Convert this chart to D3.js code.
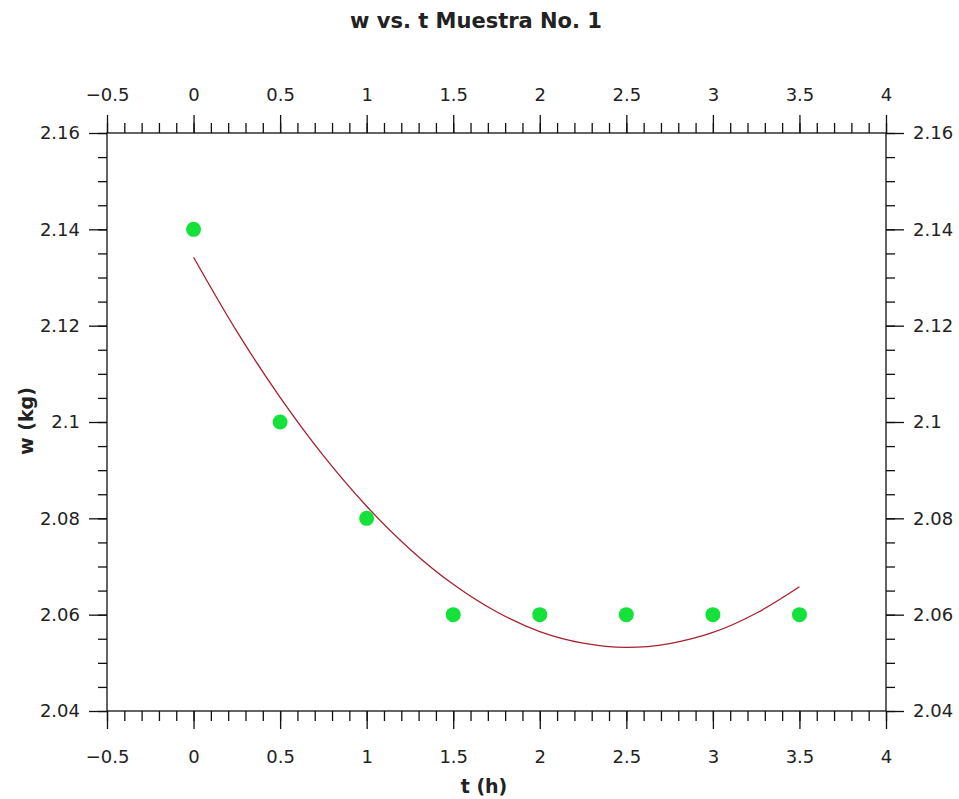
<!DOCTYPE html>
<html>
<head>
<meta charset="utf-8">
<script src="https://cdn.jsdelivr.net/npm/d3@7"></script>
<style>
  body { margin: 0; background: #fff; }
  text { font-family: "DejaVu Sans", sans-serif; fill: #222; }
</style>
</head>
<body>
<div id="chart"></div>
<script>
// measured points
const times = [0, 0.5, 1, 1.5, 2, 2.5, 3, 3.5];
const weights = [2.14, 2.10, 2.08, 2.06, 2.06, 2.06, 2.06, 2.06];

// fitted curve, every 0.25 h
const fitTimes = [0, 0.25, 0.5, 0.75, 1, 1.25, 1.5, 1.75, 2, 2.25, 2.5, 2.75, 3, 3.25, 3.5];
const fitWeights = [2.1342, 2.1188, 2.1051, 2.0930, 2.0825, 2.0736, 2.0663, 2.0606,
                    2.0565, 2.0541, 2.0532, 2.0540, 2.0563, 2.0603, 2.0658];

const xTicks = [-0.5, 0, 0.5, 1, 1.5, 2, 2.5, 3, 3.5, 4];
const yTicks = [2.04, 2.06, 2.08, 2.10, 2.12, 2.14, 2.16];
const yTickLabels = ["2.04", "2.06", "2.08", "2.1", "2.12", "2.14", "2.16"];
const xMinor = d3.range(-5, 41).map(i => i / 10);
const yMinor = d3.range(0, 25).map(i => 2.04 + i * 0.005);

const width = 959, height = 799;
const plot = { left: 107, right: 886, top: 133, bottom: 711 };

const x = d3.scaleLinear().domain([-0.5, 4]).range([plot.left, plot.right]);
const y = d3.scaleLinear().domain([2.04, 2.16]).range([plot.bottom, plot.top]);

const svg = d3.select("#chart").append("svg")
    .attr("width", width)
    .attr("height", height);

const yFmt = d => yTickLabels[yTicks.findIndex(v => Math.abs(v - d) < 1e-9)];

function drawAxis(axis, transform, size, pad, fmt, vals) {
    const g = svg.append("g")
        .attr("transform", transform)
        .call(axis.tickValues(vals).tickSize(size).tickPadding(pad).tickFormat(fmt));
    g.select(".domain").remove();
    g.selectAll("line").attr("stroke", "#111").attr("stroke-width", 1.3);
    g.selectAll("text").style("font-size", "18px").attr("fill", "#333");
    return g;
}

// minor ticks
drawAxis(d3.axisTop(x), `translate(0,${plot.top})`, 10, 0, "", xMinor);
drawAxis(d3.axisBottom(x), `translate(0,${plot.bottom})`, 10, 0, "", xMinor);
drawAxis(d3.axisLeft(y), `translate(${plot.left},0)`, 9, 0, "", yMinor);
drawAxis(d3.axisRight(y), `translate(${plot.right},0)`, 9, 0, "", yMinor);

// major ticks with labels
drawAxis(d3.axisTop(x), `translate(0,${plot.top})`, 18, 14, d3.format(""), xTicks);
drawAxis(d3.axisBottom(x), `translate(0,${plot.bottom})`, 18, 21, d3.format(""), xTicks);
drawAxis(d3.axisLeft(y), `translate(${plot.left},0)`, 18, 9, yFmt, yTicks);
drawAxis(d3.axisRight(y), `translate(${plot.right},0)`, 18, 9, yFmt, yTicks);

// frame
svg.append("rect")
    .attr("x", plot.left)
    .attr("y", plot.top)
    .attr("width", plot.right - plot.left)
    .attr("height", plot.bottom - plot.top)
    .attr("fill", "none")
    .attr("stroke", "#111")
    .attr("stroke-width", 1.3);

// fitted curve
const line = d3.line()
    .x((d, i) => x(fitTimes[i]))
    .y(d => y(d))
    .curve(d3.curveCatmullRom);

svg.append("path")
    .datum(fitWeights)
    .attr("fill", "none")
    .attr("stroke", "#a8202e")
    .attr("stroke-width", 1.3)
    .attr("d", line);

// data points
svg.selectAll(".dot")
    .data(weights)
    .enter().append("circle")
    .attr("class", "dot")
    .attr("cx", (d, i) => x(times[i]))
    .attr("cy", d => y(d))
    .attr("r", 7.5)
    .attr("fill", "#14e23a");

// chart title
svg.append("text")
    .attr("x", 476)
    .attr("y", 28)
    .attr("text-anchor", "middle")
    .style("font-size", "21px")
    .style("font-weight", "bold")
    .text("w vs. t Muestra No. 1");

// x-axis title
svg.append("text")
    .attr("x", 484)
    .attr("y", 793)
    .attr("text-anchor", "middle")
    .style("font-size", "19px")
    .style("font-weight", "bold")
    .text("t (h)");

// y-axis title
svg.append("text")
    .attr("transform", "rotate(-90)")
    .attr("x", -421)
    .attr("y", 33)
    .attr("text-anchor", "middle")
    .style("font-size", "19px")
    .style("font-weight", "bold")
    .text("w (kg)");
</script>
</body>
</html>
